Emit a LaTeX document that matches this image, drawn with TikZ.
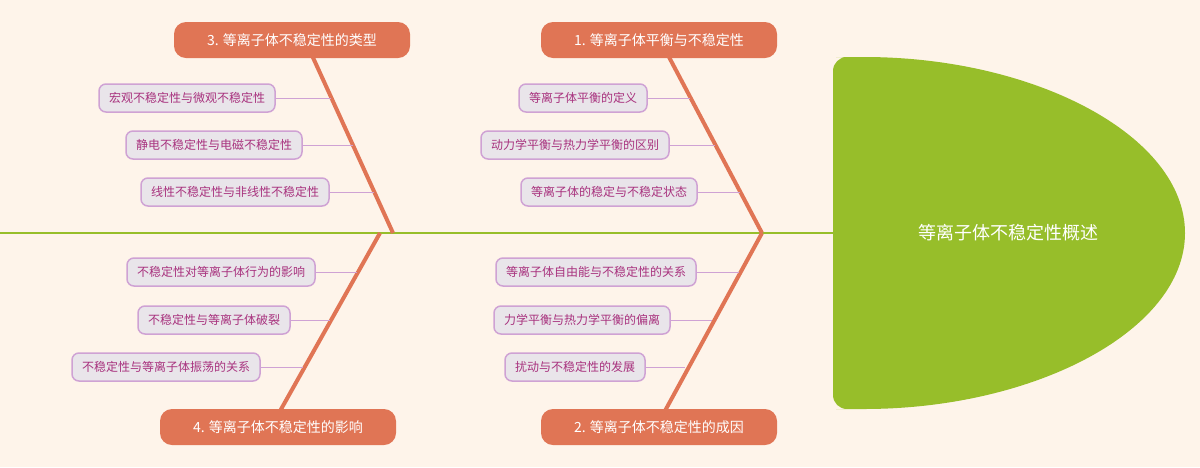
\documentclass[tikz,border=0pt]{standalone}
\usepackage{fontspec}
\newfontfamily\cjk{Noto Sans CJK SC}
\definecolor{bg}{HTML}{FEF4EA}
\definecolor{grn}{HTML}{97BE2A}
\definecolor{org}{HTML}{E07555}
\definecolor{subf}{HTML}{E9E5EA}
\definecolor{subd}{HTML}{CFA2D4}
\definecolor{subt}{HTML}{A8327E}
\tikzset{
 title/.style={fill=org,text=white,rounded corners=12pt,minimum height=36pt,inner xsep=10pt,font=\cjk\fontsize{14}{16}\selectfont},
 sub/.style={fill=subf,draw=subd,line width=1.5pt,text=subt,rounded corners=7pt,minimum height=28pt,inner xsep=10pt,font=\cjk\fontsize{12}{14}\selectfont},
 bone/.style={org,line width=4pt},
 twig/.style={subd,line width=1pt}
}
\begin{document}
\begin{tikzpicture}[x=1pt,y=-1pt]
\fill[bg] (0,0) rectangle (1200,467);
\useasboundingbox (0,0) rectangle (1200,467);
\draw[grn,line width=2pt] (0,233) -- (835,233);
\fill[grn,rounded corners=14pt] (850,57) arc(-90:90:335 and 176) -- (833,409) -- (833,57) -- cycle;
\node[text=white,font=\cjk\fontsize{18}{20}\selectfont] (head) at (1008,233) {等离子体不稳定性概述};
% bones
\coordinate (b1) at (762,233); \coordinate (b2) at (762,233);
\coordinate (b3) at (393,233); \coordinate (b4) at (380,233);
\coordinate (e1) at (660,40); \coordinate (e2) at (660,420);
\coordinate (e3) at (305,40); \coordinate (e4) at (275,420);
\draw[bone] (b1) -- (e1); \draw[bone] (b2) -- (e2);
\draw[bone] (b3) -- (e3); \draw[bone] (b4) -- (e4);
\node[title,minimum width=236pt] (t1) at (659,40) {1. 等离子体平衡与不稳定性};
\node[title,minimum width=236pt] (t2) at (659,427) {2. 等离子体不稳定性的成因};
\node[title,minimum width=236pt] (t3) at (292,40) {3. 等离子体不稳定性的类型};
\node[title,minimum width=236pt] (t4) at (278,427) {4. 等离子体不稳定性的影响};
% subs
\node[sub] (s11) at (583,98) {等离子体平衡的定义}; \coordinate (c11) at (690,98);
\node[sub] (s12) at (575,145) {动力学平衡与热力学平衡的区别}; \coordinate (c12) at (715,145);
\node[sub] (s13) at (609,192) {等离子体的稳定与不稳定状态}; \coordinate (c13) at (740,192);
\node[sub] (s21) at (596,272) {等离子体自由能与不稳定性的关系}; \coordinate (c21) at (739,272);
\node[sub] (s22) at (582,320) {力学平衡与热力学平衡的偏离}; \coordinate (c22) at (712,320);
\node[sub] (s23) at (575,367) {扰动与不稳定性的发展}; \coordinate (c23) at (685,367);
\node[sub] (s31) at (187,98) {宏观不稳定性与微观不稳定性}; \coordinate (c31) at (331,98);
\node[sub] (s32) at (214,145) {静电不稳定性与电磁不稳定性}; \coordinate (c32) at (353,145);
\node[sub] (s33) at (235,192) {线性不稳定性与非线性不稳定性}; \coordinate (c33) at (374,192);
\node[sub] (s41) at (221,272) {不稳定性对等离子体行为的影响}; \coordinate (c41) at (357,272);
\node[sub] (s42) at (214,320) {不稳定性与等离子体破裂}; \coordinate (c42) at (330,320);
\node[sub] (s43) at (166,367) {不稳定性与等离子体振荡的关系}; \coordinate (c43) at (303,367);
\foreach \n in {11,12,13,21,22,23,31,32,33,41,42,43}
  \draw[twig] (s\n.east) -- (c\n);
\end{tikzpicture}
\end{document}
